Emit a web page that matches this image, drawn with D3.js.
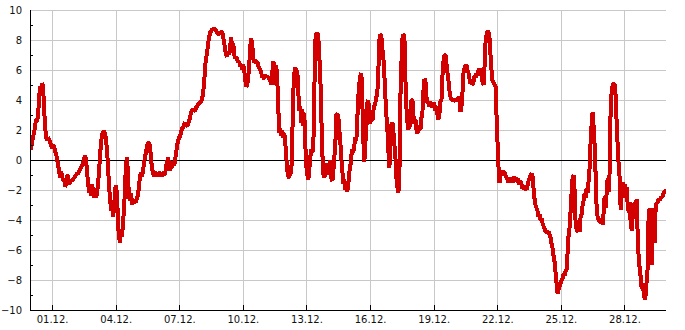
<!DOCTYPE html>
<html>
<head>
<meta charset="utf-8">
<script src="https://cdn.jsdelivr.net/npm/d3@7"></script>
<style>
  body { margin: 0; background: #fff; }
  text { font-family: "DejaVu Sans", sans-serif; font-size: 10px; fill: #111; }
</style>
</head>
<body>
<div id="chart"></div>
<script>
// readings, one sample roughly every 68 minutes
const startTime = new Date(2012, 10, 29, 23, 0);
const stepMinutes = 68;
const values = [
  0.9, 0.7, 1.2, 1.5, 1.8, 2.2, 2.7, 2.6, 2.9, 4.0,
  4.9, 4.6, 5.1, 5.0, 3.5, 2.4, 1.5, 1.3, 1.5, 1.4,
  1.2, 1.0, 0.8, 1.0, 0.9, 0.6, 0.4, 0.1, -0.3, -0.7,
  -1.2, -0.8, -1.0, -1.4, -1.2, -1.8, -1.6, -1.0, -1.1, -1.6,
  -1.5, -1.3, -1.4, -1.3, -1.2, -1.1, -1.0, -0.9, -0.9, -0.8,
  -0.6, -0.5, -0.4, -0.2, 0.1, 0.3, 0.0, -0.8, -1.5, -2.2,
  -1.8, -2.4, -1.6, -2.0, -2.5, -1.9, -2.5, -2.2, -1.6, -0.7,
  0.3, 1.2, 1.7, 1.9, 1.9, 1.8, 1.3, 0.6, -0.5, -1.8,
  -2.6, -3.4, -2.8, -3.8, -3.2, -1.9, -1.7, -2.4, -4.4, -5.2,
  -5.5, -4.6, -5.1, -4.0, -3.4, -1.5, -0.3, 0.2, -1.3, -2.5,
  -2.7, -2.2, -3.0, -2.6, -2.9, -2.7, -2.8, -2.5, -2.3, -1.6,
  -1.1, -0.8, -1.1, -0.6, -0.2, 0.3, 0.5, 1.0, 1.1, 1.2,
  0.8, 0.0, -0.6, -0.9, -1.1, -0.8, -1.0, -0.9, -1.1, -0.8,
  -1.0, -0.9, -1.1, -0.8, -1.0, -0.9, -0.4, -0.1, 0.2, -0.4,
  -0.7, -0.3, -0.5, -0.1, -0.4, 0.0, 0.5, 1.0, 1.3, 1.5,
  1.6, 1.9, 2.1, 2.2, 2.4, 2.5, 2.3, 2.3, 2.4, 2.6,
  2.9, 3.2, 3.3, 3.4, 3.3, 3.3, 3.5, 3.6, 3.7, 3.8,
  3.8, 3.9, 4.1, 4.5, 5.2, 6.3, 6.8, 7.2, 7.8, 8.2,
  8.5, 8.6, 8.7, 8.7, 8.8, 8.7, 8.6, 8.5, 8.4, 8.4,
  8.5, 8.5, 8.6, 8.2, 7.8, 7.3, 7.0, 6.9, 7.2, 7.0,
  7.6, 8.2, 7.4, 7.8, 7.0, 6.8, 6.9, 6.7, 6.5, 6.6,
  6.2, 6.4, 6.0, 6.4, 6.0, 5.3, 4.9, 5.0, 5.5, 6.3,
  7.6, 8.1, 7.7, 6.8, 6.5, 6.7, 6.4, 6.6, 6.3, 6.1,
  6.0, 5.8, 5.5, 5.6, 5.4, 5.7, 5.5, 5.6, 5.5, 5.4,
  5.3, 5.0, 5.8, 6.6, 6.2, 5.0, 6.3, 5.4, 3.5, 1.8,
  2.1, 1.6, 2.0, 1.5, 1.8, 1.2, 0.2, -0.7, -1.1, -1.2,
  -0.6, -0.9, 1.5, 4.5, 5.8, 6.2, 5.9, 6.0, 4.5, 3.3,
  3.6, 2.5, 3.4, 2.3, 3.1, 1.0, -0.4, -1.0, -1.3, -0.6,
  0.2, 0.7, 0.5, 0.8, 4.5, 8.0, 8.4, 8.5, 8.2, 6.9,
  5.6, 3.0, 0.5, -0.9, -1.2, -0.6, -0.2, -1.0, -0.3, -0.7,
  0.0, -1.2, -1.4, -0.8, 0.2, 1.0, 3.0, 3.1, 2.9, 2.0,
  1.2, 0.1, -0.7, -1.6, -1.3, -2.0, -1.8, -2.1, -1.6, -0.8,
  -0.4, 0.3, 0.7, 0.5, 1.0, 1.5, 1.3, 2.8, 4.3, 5.1,
  5.6, 5.8, 3.8, 1.3, -0.1, 1.0, 2.6, 3.8, 4.0, 2.6,
  2.4, 3.3, 2.6, 3.3, 3.6, 3.8, 4.2, 4.5, 6.0, 8.0,
  8.4, 8.2, 7.4, 6.8, 5.6, 4.2, 3.0, 2.0, 0.6, -0.5,
  0.8, 2.4, 2.5, 1.9, 1.0, 0.2, -1.2, -1.8, -2.2, -1.0,
  4.2, 6.4, 8.1, 8.4, 8.2, 5.4, 3.5, 2.5, 2.0, 2.8,
  2.2, 4.0, 4.0, 3.0, 2.4, 2.7, 2.0, 1.8, 1.9, 2.3,
  2.0, 2.8, 3.2, 4.6, 5.4, 5.3, 4.2, 3.8, 3.8, 3.6,
  3.9, 3.6, 3.5, 3.8, 3.7, 3.3, 3.6, 3.0, 2.7, 3.1,
  3.9, 4.0, 5.6, 6.6, 7.0, 7.0, 6.4, 5.8, 5.3, 4.6,
  4.2, 4.0, 4.1, 3.9, 4.0, 3.9, 4.1, 4.0, 4.2, 4.1,
  3.2, 3.6, 4.5, 5.8, 6.1, 6.3, 6.3, 6.0, 5.8, 5.4,
  5.1, 5.3, 5.0, 5.2, 5.6, 5.5, 5.8, 5.6, 6.0, 6.1,
  5.7, 6.0, 5.2, 5.0, 6.2, 7.8, 8.3, 8.6, 8.5, 8.1,
  7.0, 6.0, 5.3, 5.2, 5.0, 4.9, 3.0, 1.2, -0.5, -1.5,
  -1.0, -0.9, -0.7, -1.0, -0.8, -1.0, -1.2, -1.3, -1.5, -1.2,
  -1.4, -1.2, -1.5, -1.1, -1.2, -1.3, -1.4, -1.2, -1.5, -1.6,
  -1.4, -1.6, -1.9, -1.7, -2.0, -1.8, -2.0, -1.7, -1.4, -1.2,
  -1.0, -0.9, -1.1, -1.9, -2.6, -3.0, -3.2, -3.4, -3.8, -3.6,
  -4.0, -3.9, -4.2, -4.4, -4.6, -4.8, -4.7, -4.9, -4.8, -5.0,
  -5.2, -5.6, -5.9, -6.4, -6.8, -7.5, -8.2, -8.9, -8.6, -8.4,
  -8.2, -8.0, -7.9, -7.6, -7.7, -7.4, -7.3, -6.2, -5.0, -4.5,
  -3.4, -2.2, -1.2, -1.0, -2.0, -4.2, -4.6, -4.8, -4.5, -4.8,
  -3.8, -3.6, -3.0, -2.7, -2.2, -2.5, -1.9, -2.2, -1.4, -0.5,
  1.2, 2.4, 3.2, 2.2, 1.0, -1.0, -3.2, -3.8, -4.0, -4.1,
  -4.2, -3.9, -4.3, -3.5, -2.4, -3.2, -2.2, -1.2, -2.1, -0.8,
  3.5, 4.5, 5.0, 5.1, 5.0, 4.3, 2.5, 1.0, -0.3, -1.2,
  -3.3, -2.2, -1.5, -2.5, -1.6, -2.3, -1.8, -3.0, -3.5, -2.8,
  -4.2, -4.7, -3.8, -3.2, -2.8, -3.3, -2.6, -5.0, -6.5, -7.2,
  -7.8, -8.6, -8.2, -8.8, -9.3, -9.0, -8.0, -7.2, -3.5, -3.2,
  -6.0, -7.0, -3.6, -3.2, -5.5, -3.0, -2.9, -2.8, -2.6, -2.7,
  -2.5, -2.5, -2.4, -2.2, -2.1, -2.0, -2.1
];
const yTicks = [-10, -8, -6, -4, -2, 0, 2, 4, 6, 8, 10];
const yMinorTicks = [-9, -7, -5, -3, -1, 1, 3, 5, 7, 9];
const xDomain = [new Date(2012, 10, 29, 23, 0), new Date(2012, 11, 29, 23, 0)];

const width = 685;
const height = 330;
const margin = {top: 10, right: 19, bottom: 20, left: 30};
const innerW = width - margin.left - margin.right;
const innerH = height - margin.top - margin.bottom;

const data = values.map((v, i) => ({
  t: new Date(startTime.getTime() + i * stepMinutes * 60000),
  v: v
}));

const svg = d3.select('#chart').append('svg')
  .attr('width', width)
  .attr('height', height);

const g = svg.append('g')
  .attr('transform', `translate(${margin.left},${margin.top})`);

const x = d3.scaleTime().domain(xDomain).range([0, innerW]);
const y = d3.scaleLinear().domain([-10, 10]).range([innerH, 0]);

const xTicks = x.ticks(d3.timeDay.every(3));

// grid
g.append('g').selectAll('line').data(yTicks).join('line')
  .attr('x1', 0).attr('x2', innerW)
  .attr('y1', (d) => Math.round(y(d)) + 0.5)
  .attr('y2', (d) => Math.round(y(d)) + 0.5)
  .style('stroke', '#c8c8c8');

g.append('g').selectAll('line').data(xTicks).join('line')
  .attr('x1', (d) => Math.round(x(d)) + 0.5)
  .attr('x2', (d) => Math.round(x(d)) + 0.5)
  .attr('y1', 0).attr('y2', innerH)
  .style('stroke', '#c8c8c8');

// zero line
g.append('line')
  .attr('x1', 0).attr('x2', innerW)
  .attr('y1', Math.round(y(0)) + 0.5).attr('y2', Math.round(y(0)) + 0.5)
  .style('stroke', '#000');

// the series
g.append('clipPath').attr('id', 'clip')
  .append('rect').attr('width', innerW).attr('height', innerH);

const line = d3.line()
  .x((d) => x(d.t))
  .y((d) => y(d.v));

g.append('path')
  .datum(data)
  .attr('clip-path', 'url(#clip)')
  .attr('d', line)
  .style('fill', 'none')
  .style('stroke', '#d20000')
  .style('stroke-width', 4)
  .style('stroke-linejoin', 'bevel')
  .style('shape-rendering', 'crispEdges');

// axes
const yaxis = d3.axisLeft(y).tickValues(yTicks).tickSize(0).tickPadding(8)
  .tickFormat(d3.format('d'));
const g_yaxis = g.append('g').call(yaxis);
g_yaxis.select('.domain').remove();
g_yaxis.selectAll('text').style('font-size', '10px').style('fill', '#111');

g.append('g').selectAll('line').data(yMinorTicks).join('line')
  .attr('x1', 0).attr('x2', 3)
  .attr('y1', (d) => Math.round(y(d)) + 0.5)
  .attr('y2', (d) => Math.round(y(d)) + 0.5)
  .style('stroke', '#000');

const xaxis = d3.axisBottom(x).tickValues(xTicks).tickSize(0).tickPadding(6)
  .tickFormat(d3.timeFormat('%d.%m.'));
const g_xaxis = g.append('g').attr('transform', `translate(0,${innerH})`).call(xaxis);
g_xaxis.select('.domain').remove();
g_xaxis.selectAll('text').style('font-size', '10px').style('fill', '#111');

g.append('g').selectAll('line').data(xTicks).join('line')
  .attr('x1', (d) => Math.round(x(d)) + 0.5)
  .attr('x2', (d) => Math.round(x(d)) + 0.5)
  .attr('y1', innerH - 5).attr('y2', innerH)
  .style('stroke', '#000');

g.append('line')
  .attr('x1', 0.5).attr('x2', 0.5)
  .attr('y1', 0).attr('y2', innerH)
  .style('stroke', '#000');
g.append('line')
  .attr('x1', 0).attr('x2', innerW)
  .attr('y1', innerH + 0.5).attr('y2', innerH + 0.5)
  .style('stroke', '#000');
</script>
</body>
</html>
